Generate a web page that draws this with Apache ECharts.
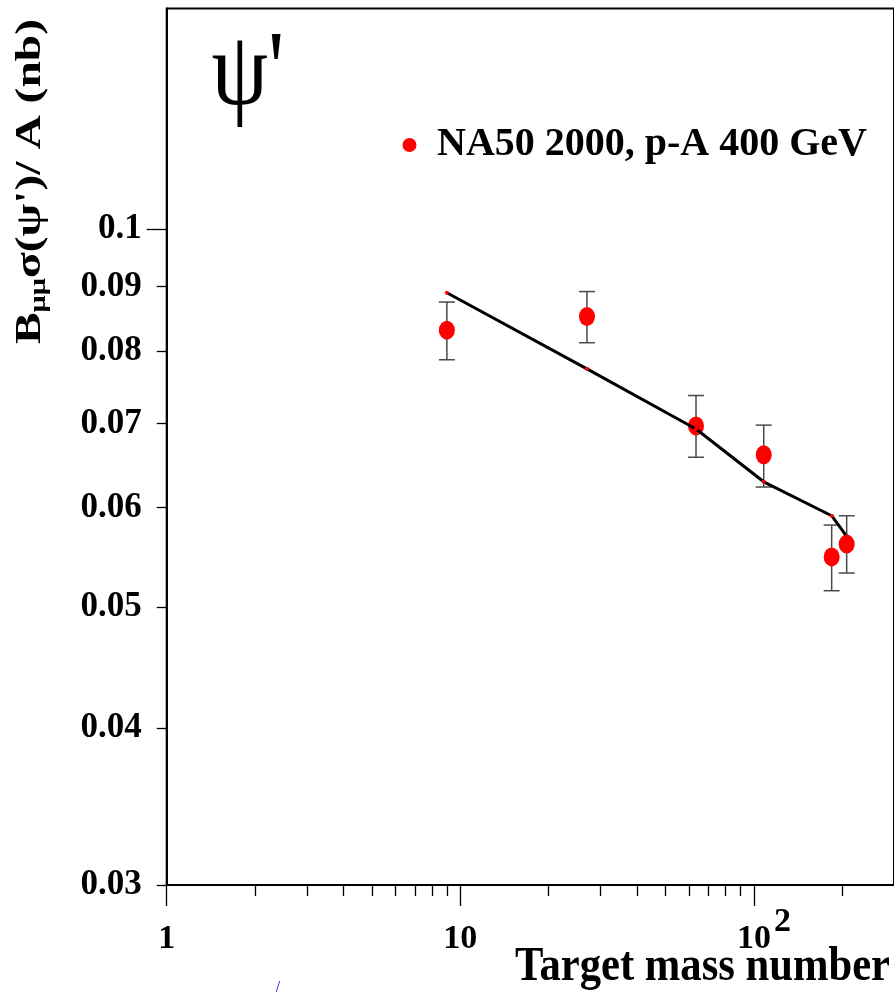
<!DOCTYPE html>
<html>
<head>
<meta charset="utf-8">
<script src="https://cdn.jsdelivr.net/npm/echarts@6/dist/echarts.min.js"></script>
<style>
  html, body { margin: 0; padding: 0; background: #ffffff; }
  #chart { width: 894px; height: 993px; }
</style>
</head>
<body>
<div id="chart"></div>
<script>
// psi' production per nucleon vs target mass number (NA50, p-A at 400 GeV)
const targets     = ['Be', 'Al', 'Cu', 'Ag', 'W', 'Pb'];
const massNumber  = [9, 27, 63.5, 108, 184, 207];
const sigmaOverA  = [0.0831, 0.0852, 0.0697, 0.0661, 0.0548, 0.0561];
const errLow      = [0.0787, 0.0812, 0.0658, 0.0623, 0.0515, 0.0532];
const errHigh     = [0.0875, 0.0892, 0.0737, 0.0698, 0.0581, 0.0591];
const fitValues   = [0.0890, 0.0774, 0.0693, 0.0629, 0.0591, 0.0569];

const xMajorTicks = [1, 10, 100];
const xMinorTicks = [2, 3, 4, 5, 6, 7, 8, 9, 20, 30, 40, 50, 60, 70, 80, 90, 200];
const yTickLabels = [0.03, 0.04, 0.05, 0.06, 0.07, 0.08, 0.09, 0.1];
const yLongTicks  = [0.1];
const xRange = [1, 300];
const yRange = [0.03, 0.15];

const legendName = 'NA50 2000, p-A 400 GeV';
const xTitle = 'Target mass number';

const SERIF = "'Liberation Serif', 'Times New Roman', serif";
const lg = Math.log10;

// both axes are logarithmic: data are mapped to log10 and drawn on value axes
const errData = massNumber.map((m, i) => [lg(m), lg(errLow[i]), lg(errHigh[i])]);
const pointData = massNumber.map((m, i) => [lg(m), lg(sigmaOverA[i])]);
const fitData = massNumber.map((m, i) => [lg(m), lg(fitValues[i])]);

const yShortTicks = yTickLabels.filter(v => yLongTicks.indexOf(v) < 0);

const chart = echarts.init(document.getElementById('chart'), null, { renderer: 'canvas' });

const option = {
  animation: false,
  backgroundColor: '#ffffff',
  grid: {
    left: 166.7, top: 8.5, width: 728.8, height: 876.5,
    show: true, borderColor: '#000', borderWidth: 2, backgroundColor: 'transparent'
  },
  legend: {
    data: [legendName],
    left: 402.5, top: 125, padding: 0,
    icon: 'circle', itemWidth: 45, itemHeight: 14,
    itemStyle: { opacity: 1 },
    textStyle: { fontFamily: SERIF, fontWeight: 'bold', fontSize: 40, color: '#000', lineHeight: 40 }
  },
  xAxis: [
    {
      type: 'value', position: 'bottom',
      min: lg(xRange[0]), max: lg(xRange[1]),
      axisLine: { show: true, lineStyle: { color: '#000', width: 2 } },
      axisTick: { show: true, customValues: xMajorTicks.map(lg), length: 21, lineStyle: { color: '#000', width: 1.3 } },
      axisLabel: {
        show: true, customValues: xMajorTicks.map(lg), margin: 17,
        formatter: v => {
          const p = Math.round(v);
          if (p < 2) return '{n|' + Math.pow(10, p) + '}';
          return '{sp|}{n|10}{s|' + p + '}';
        },
        rich: {
          // every label shares the same line box so that the exponent can sit higher
          n: { fontFamily: SERIF, fontWeight: 'bold', fontSize: 34, color: '#000', lineHeight: 74 },
          s: { fontFamily: SERIF, fontWeight: 'bold', fontSize: 34, color: '#000', lineHeight: 40, padding: [0, 0, 34, 3] },
          sp: { width: 20, lineHeight: 74 }
        }
      },
      splitLine: { show: false }
    },
    {
      type: 'value', position: 'bottom',
      min: lg(xRange[0]), max: lg(xRange[1]),
      axisLine: { show: false },
      axisTick: { show: true, customValues: xMinorTicks.map(lg), length: 11, lineStyle: { color: '#000', width: 1.3 } },
      axisLabel: { show: false },
      splitLine: { show: false }
    }
  ],
  yAxis: [
    {
      type: 'value', position: 'left',
      min: lg(yRange[0]), max: lg(yRange[1]),
      axisLine: { show: true, lineStyle: { color: '#000', width: 2 } },
      axisTick: { show: true, customValues: yLongTicks.map(lg), length: 20, lineStyle: { color: '#000', width: 1.3 } },
      axisLabel: {
        show: true, customValues: yTickLabels.map(lg), margin: 25,
        fontFamily: SERIF, fontWeight: 'bold', fontSize: 35, color: '#000',
        formatter: v => String(parseFloat(Math.pow(10, v).toPrecision(3)))
      },
      splitLine: { show: false }
    },
    {
      type: 'value', position: 'left',
      min: lg(yRange[0]), max: lg(yRange[1]),
      axisLine: { show: false },
      axisTick: { show: true, customValues: yShortTicks.map(lg), length: 10, lineStyle: { color: '#000', width: 1.3 } },
      axisLabel: { show: false },
      splitLine: { show: false }
    }
  ],
  series: [
    {
      name: 'errors',
      type: 'custom',
      xAxisIndex: 0, yAxisIndex: 0,
      z: 2,
      data: errData,
      encode: { x: 0, y: [1, 2] },
      renderItem: (params, api) => {
        const x = api.value(0);
        const pLo = api.coord([x, api.value(1)]);
        const pHi = api.coord([x, api.value(2)]);
        const hw = 8;
        const st = { stroke: '#4a4a4a', lineWidth: 1.5 };
        return {
          type: 'group',
          children: [
            { type: 'line', shape: { x1: pLo[0], y1: pLo[1], x2: pHi[0], y2: pHi[1] }, style: st },
            { type: 'line', shape: { x1: pLo[0] - hw, y1: pLo[1], x2: pLo[0] + hw, y2: pLo[1] }, style: st },
            { type: 'line', shape: { x1: pHi[0] - hw, y1: pHi[1], x2: pHi[0] + hw, y2: pHi[1] }, style: st }
          ]
        };
      }
    },
    {
      name: legendName,
      type: 'scatter',
      xAxisIndex: 0, yAxisIndex: 0,
      z: 3,
      symbol: 'circle',
      symbolSize: [16, 19],
      itemStyle: { color: '#ff0000', opacity: 1 },
      data: pointData
    },
    {
      name: 'fit',
      type: 'line',
      xAxisIndex: 0, yAxisIndex: 0,
      z: 4,
      symbol: 'circle',
      symbolSize: 4,
      showSymbol: true,
      lineStyle: { color: '#000', width: 3 },
      itemStyle: { color: '#ff0000', borderWidth: 0, opacity: 1 },
      data: fitData
    }
  ],
  graphic: [
    {
      type: 'text', x: 211.5, y: 76, scaleX: 0.86, z: 10,
      style: { text: '\u03C8\'', fontFamily: SERIF, fontSize: 105, fill: '#000', textAlign: 'left', textVerticalAlign: 'middle' }
    },
    {
      type: 'text', x: 31, y: 181.5, rotation: Math.PI / 2, scaleX: 1.08, scaleY: 0.8, z: 10,
      style: {
        text: '{b|B}{s|\u03BC\u03BC}{b|\u03C3(\u03C8\')/ A (nb)}',
        textAlign: 'center', textVerticalAlign: 'middle',
        rich: {
          b: { fontFamily: SERIF, fontWeight: 'bold', fontSize: 44, fill: '#000', lineHeight: 48 },
          s: { fontFamily: SERIF, fontWeight: 'bold', fontSize: 28, fill: '#000', lineHeight: 28, verticalAlign: 'bottom' }
        }
      }
    },
    {
      type: 'text', x: 515, y: 967, scaleX: 0.87, z: 10,
      style: { text: xTitle, fontFamily: SERIF, fontWeight: 'bold', fontSize: 49, fill: '#000', textAlign: 'left', textVerticalAlign: 'middle' }
    },
    {
      type: 'text', x: 278, y: 988, z: 10,
      style: { text: '/', fontFamily: SERIF, fontSize: 16, fill: '#0000ff', textAlign: 'center', textVerticalAlign: 'middle' }
    }
  ]
};

chart.setOption(option);
</script>
</body>
</html>
